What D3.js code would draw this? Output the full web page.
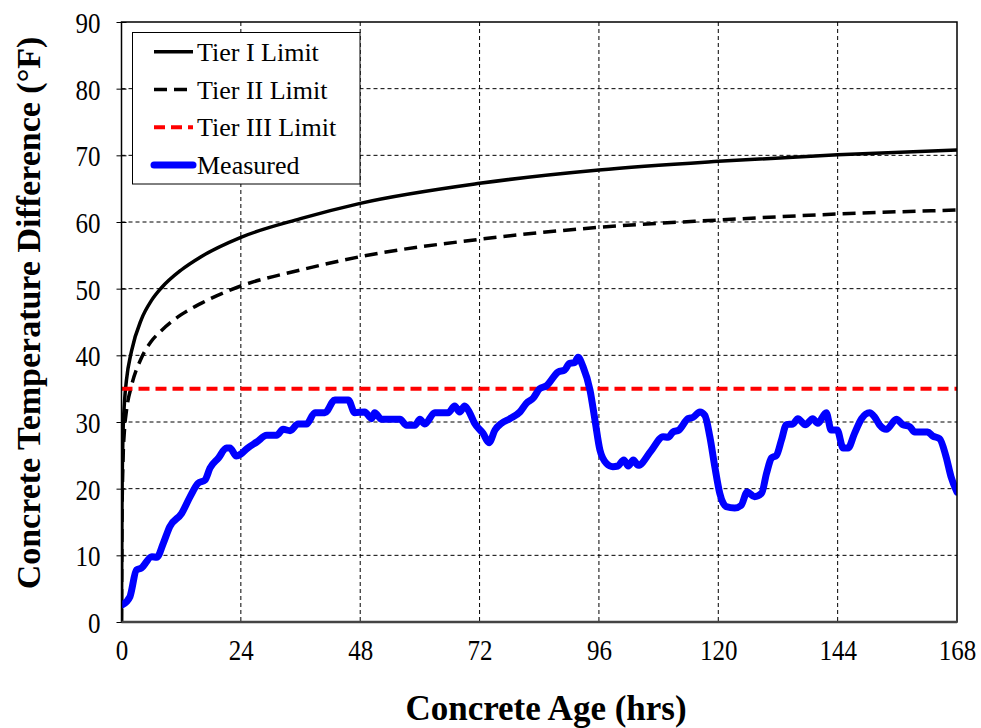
<!DOCTYPE html>
<html>
<head>
<meta charset="utf-8">
<script src="https://cdn.jsdelivr.net/npm/d3@7"></script>
<style>
  body { margin: 0; background: #fff; }
  svg, svg text { font-family: "Liberation Serif", "Times New Roman", serif !important; }
</style>
</head>
<body>
<div id="chart"></div>
<script>
// ---- data ----
const xTicks = [0, 24, 48, 72, 96, 120, 144, 168];
const yTicks = [0, 10, 20, 30, 40, 50, 60, 70, 80, 90];

const tierHours = [0, 0.1, 0.3, 0.6, 1, 2, 4, 6, 8, 12, 16, 24, 36, 48, 72, 96, 120, 144, 168];
const tier1 = [0, 18, 28, 33, 36.3, 40.6, 45.4, 48.2, 50.1, 52.8, 54.8, 57.7, 60.5, 62.8, 65.8, 67.8, 69.1, 70.1, 70.8];
const tier2 = [0, 15, 24, 28.8, 31.7, 35.4, 39.6, 42.1, 43.7, 46.1, 47.8, 50.4, 52.8, 54.8, 57.4, 59.2, 60.3, 61.2, 61.8];
const tier3Hours = [0, 168];
const tier3 = [35, 35];

const measHours = [0.2, 1.7, 3.0, 4.0, 6.1, 7.1, 8.4, 9.7, 12.1, 13.8, 15.4, 16.8, 17.8, 19.5, 21.1, 21.8,
  23.1, 24.0, 25.2, 27.2, 29.2, 31.2, 32.5, 33.9, 35.5, 37.2, 38.9, 40.9, 42.9, 45.6, 46.9, 48.9,
  50.3, 50.9, 52.3, 56.0, 57.3, 59.0, 60.0, 61.0, 63.0, 65.7, 67.0, 68.0, 69.0, 70.0, 71.0, 72.7,
  73.9, 75.1, 76.4, 78.1, 80.1, 81.4, 82.8, 84.1, 85.4, 87.8, 89.1, 90.1, 91.1, 91.8, 92.8, 94.2,
  95.2, 96.2, 97.5, 98.8, 99.8, 101.0, 101.9, 102.9, 103.9, 106.5, 108.9, 109.9, 110.9, 112.1, 113.9,
  114.9, 116.3, 117.3, 118.3, 119.3, 120.3, 121.6, 123.3, 124.6, 125.8, 127.3, 128.7, 129.7, 130.7,
  131.7, 132.7, 133.7, 135.0, 136.0, 137.5, 139.0, 140.0, 141.7, 142.7, 143.9, 145.1, 146.1, 147.4,
  148.8, 150.4, 151.4, 152.4, 153.8, 155.8, 157.1, 158.5, 159.5, 162.1, 163.1, 164.5, 165.8, 166.8, 168];
const measValues = [2.6, 3.8, 7.8, 8.1, 9.8, 9.7, 11.8, 14.3, 16.3, 18.8, 20.8, 21.3, 23.1, 24.6, 26.1, 26.1,
  24.9, 25.2, 26.0, 27.0, 28.0, 28.0, 28.9, 28.7, 29.7, 29.7, 31.4, 31.4, 33.3, 33.3, 31.4, 31.5,
  30.5, 31.4, 30.4, 30.4, 29.5, 29.5, 30.4, 29.7, 31.4, 31.4, 32.4, 31.5, 32.4, 31.4, 29.8, 28.3,
  26.9, 28.8, 29.8, 30.5, 31.5, 32.8, 33.6, 35.0, 35.4, 37.5, 37.8, 38.8, 38.9, 39.7, 38.3, 34.8,
  30.3, 25.8, 23.8, 23.3, 23.4, 24.3, 23.4, 24.3, 23.5, 25.7, 27.8, 27.7, 28.5, 28.8, 30.5,
  30.7, 31.5, 31.0, 27.8, 23.3, 19.3, 17.3, 17.1, 17.5, 19.5, 18.8, 19.3, 22.3, 24.6,
  25.0, 27.3, 29.6, 29.7, 30.5, 29.6, 30.5, 29.8, 31.4, 28.8, 28.8, 26.1, 26.1, 28.3,
  30.5, 31.4, 30.8, 29.6, 28.9, 30.4, 29.6, 29.3, 28.5, 28.5, 27.9, 27.5, 24.8, 21.8, 19.5];

const legendNames = ["Tier I Limit", "Tier II Limit", "Tier III Limit", "Measured"];

// ---- layout ----
const W = 981, H = 728;
const margin = { top: 22, left: 121.5, right: 24, bottom: 106 };
const width = W - margin.left - margin.right;
const height = H - margin.top - margin.bottom;
const stretch = 1.2; // tick labels in the source are a bit taller than wide

const styles = [
  { color: "#000", w: 3.5, dash: null },
  { color: "#000", w: 3.5, dash: "13,7" },
  { color: "#ff0000", w: 4, dash: "11,6" },
  { color: "#0000ff", w: 7, dash: null }
];

const svg = d3.select("#chart").append("svg")
  .attr("width", W).attr("height", H);

const g = svg.append("g").attr("transform", `translate(${margin.left},${margin.top})`);

const x = d3.scaleLinear().domain([0, 168]).range([0, width]);
const y = d3.scaleLinear().domain([0, 90]).range([height, 0]);

// grid
g.append("g").selectAll("line").data(xTicks.slice(1, -1)).join("line")
  .attr("x1", d => x(d)).attr("x2", d => x(d)).attr("y1", 0).attr("y2", height)
  .attr("stroke", "#000").attr("stroke-width", 1).attr("stroke-dasharray", "4,3");
g.append("g").selectAll("line").data(yTicks.slice(1, -1)).join("line")
  .attr("y1", d => y(d)).attr("y2", d => y(d)).attr("x1", 0).attr("x2", width)
  .attr("stroke", "#000").attr("stroke-width", 1).attr("stroke-dasharray", "4,3");

// axes
const xAxis = g.append("g").attr("transform", `translate(0,${height})`)
  .call(d3.axisBottom(x).tickValues(xTicks).tickSize(0));
const yAxis = g.append("g")
  .call(d3.axisLeft(y).tickValues(yTicks).tickSizeInner(5).tickSizeOuter(0).tickPadding(16));
[xAxis, yAxis].forEach(a => {
  a.attr("font-family", null);
  a.select(".domain").remove();
  a.selectAll("text").attr("font-size", 25).attr("fill", "#000")
    .attr("transform", `scale(1,${stretch})`);
});
xAxis.selectAll("text").attr("y", 28 / stretch).attr("dy", "0.35em");
yAxis.selectAll("text").attr("dy", "0.35em");
yAxis.selectAll(".tick line").attr("x2", 5).attr("x1", -5).attr("stroke", "#000");

// clip
svg.append("clipPath").attr("id", "clip").append("rect")
  .attr("width", width).attr("height", height);

const plot = g.append("g").attr("clip-path", "url(#clip)");

const series = [
  d3.zip(tierHours, tier1),
  d3.zip(tierHours, tier2),
  d3.zip(tier3Hours, tier3),
  d3.zip(measHours, measValues)
];
const lineGen = d3.line().x(d => x(d[0])).y(d => y(d[1])).curve(d3.curveMonotoneX);
series.forEach((s, i) => {
  plot.append("path").datum(s)
    .attr("d", lineGen)
    .attr("fill", "none")
    .attr("stroke", styles[i].color)
    .attr("stroke-width", styles[i].w)
    .attr("stroke-dasharray", styles[i].dash)
    .attr("stroke-linejoin", "round")
    .attr("stroke-linecap", i === 3 ? "round" : "butt");
});

// frame
g.append("rect").attr("width", width).attr("height", height)
  .attr("fill", "none").attr("stroke", "#000").attr("stroke-width", 1.5);
g.append("line").attr("x1", 0).attr("x2", width).attr("y1", height).attr("y2", height)
  .attr("stroke", "#444").attr("stroke-width", 2.5);

// legend
const lg = svg.append("g");
lg.append("rect").attr("x", 132.5).attr("y", 32.5).attr("width", 227.5).attr("height", 151.5)
  .attr("fill", "#fff").attr("stroke", "#000").attr("stroke-width", 1);
legendNames.forEach((name, i) => {
  const cy = 51.7 + i * 37.8;
  lg.append("line").attr("x1", 154).attr("x2", 193).attr("y1", cy).attr("y2", cy)
    .attr("stroke", styles[i].color).attr("stroke-width", styles[i].w)
    .attr("stroke-dasharray", styles[i].dash)
    .attr("stroke-linecap", i === 3 ? "round" : "butt");
  lg.append("text").attr("x", 197).attr("y", cy).attr("dy", "0.35em")
    .attr("font-size", 26).text(name);
});

// titles
svg.append("text").attr("x", 546).attr("y", 708).attr("dy", "0.35em")
  .attr("text-anchor", "middle").attr("font-size", 35).attr("font-weight", "bold")
  .text("Concrete Age (hrs)");
svg.append("text").attr("transform", "translate(28,313) rotate(-90)").attr("dy", "0.35em")
  .attr("text-anchor", "middle").attr("font-size", 34).attr("font-weight", "bold")
  .text("Concrete Temperature Difference (°F)");
</script>
</body>
</html>
